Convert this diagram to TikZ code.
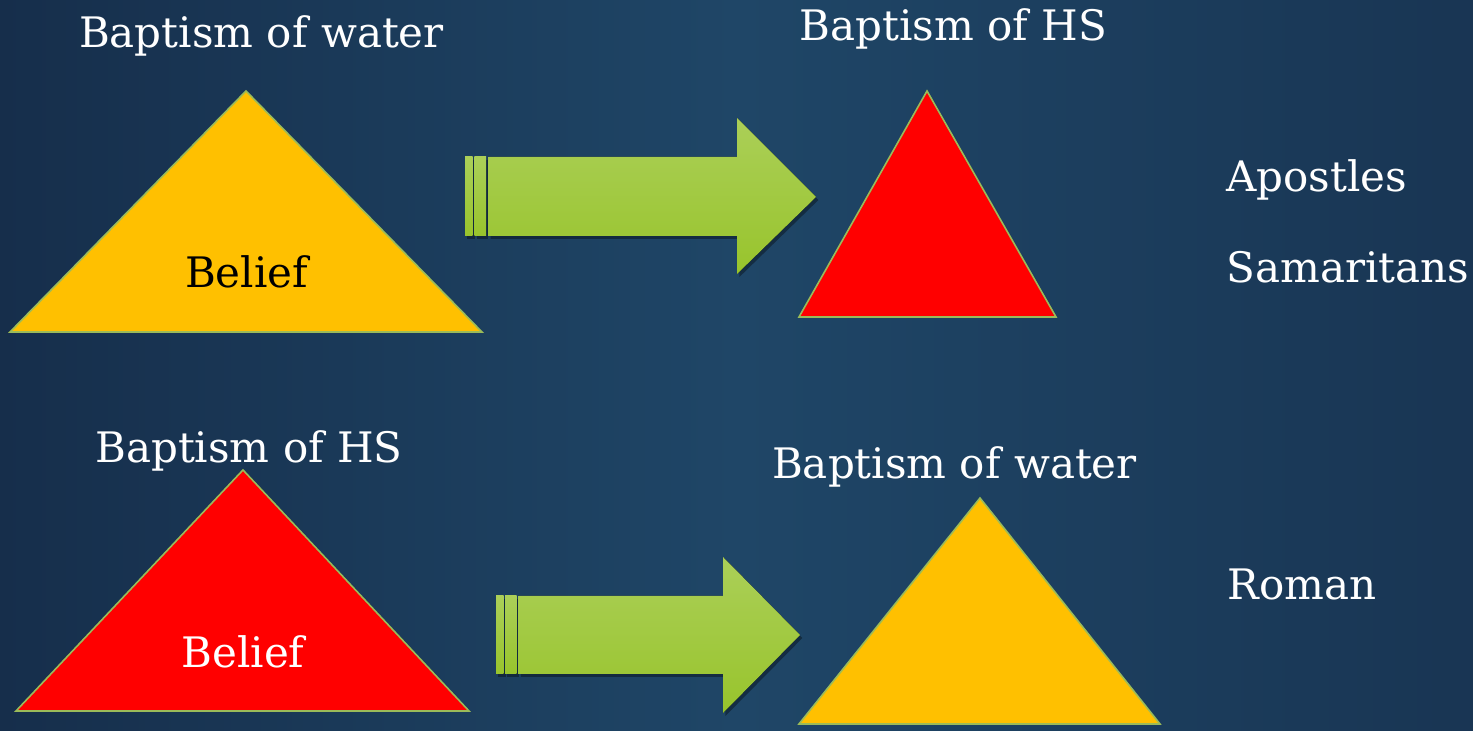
\documentclass[tikz,border=0pt]{standalone}
\usepackage{fontspec}
\setmainfont{DejaVu Serif}
\usetikzlibrary{shadows}
\definecolor{fon}{RGB}{22,46,75}
\definecolor{fonsvet}{RGB}{31,70,103}
\definecolor{zhelt}{RGB}{255,192,0}
\definecolor{krasn}{RGB}{255,0,0}
\definecolor{kontur}{RGB}{155,187,89}
\definecolor{strverh}{RGB}{171,207,88}
\definecolor{strniz}{RGB}{152,196,44}
\tikzset{
 tekst/.style={white,inner sep=0pt,font=\fontsize{21}{25}\selectfont},
 treug/.style={draw=kontur,line width=0.8pt,line join=miter},
 strelka/.style={top color=strverh,bottom color=strniz,drop shadow={shadow xshift=1.2pt,shadow yshift=-1.5pt,fill=black,opacity=0.35}}
}
\begin{document}
\begin{tikzpicture}[x=0.5pt,y=-0.5pt]
%Фон
\shade[left color=fon,right color=fon!70!fonsvet,middle color=fonsvet] (0,0) rectangle (1473,731);
\useasboundingbox (0,0) rectangle (1473,731);
%Верхний ряд
\filldraw[treug,fill=zhelt] (10,332) -- (246,91) -- (482,332) -- cycle;
\filldraw[treug,fill=krasn] (799,317) -- (927,91) -- (1056,317) -- cycle;
\fill[strelka] (465,157) rectangle (472.7,236);
\fill[strelka] (474.3,157) rectangle (486,236);
\fill[strelka] (488.3,157) -- (737,157) -- (737,118) -- (816,197) -- (737,274) -- (737,236) -- (488.3,236) -- cycle;
\node[tekst,anchor=base] (kreshV1) at (261.5,48) {Baptism of water};
\node[tekst,anchor=base,black] (vera1) at (246.5,288) {Belief};
\node[tekst,anchor=base] (kreshD1) at (953.5,41) {Baptism of HS};
\node[tekst,anchor=base west] (apost) at (1226,192) {Apostles};
\node[tekst,anchor=base west] (samar) at (1226,283) {Samaritans};
%Нижний ряд
\filldraw[treug,fill=krasn] (16,711) -- (243,470) -- (469,711) -- cycle;
\filldraw[treug,fill=zhelt] (799,724) -- (980,498) -- (1160,724) -- cycle;
\fill[strelka] (496,596) rectangle (503.5,674);
\fill[strelka] (505,596) rectangle (516.5,674);
\fill[strelka] (518.5,596) -- (723,596) -- (723,557) -- (800,635) -- (723,713) -- (723,674) -- (518.5,674) -- cycle;
\node[tekst,anchor=base] (kreshD2) at (249,463) {Baptism of HS};
\node[tekst,anchor=base] (vera2) at (243,668) {Belief};
\node[tekst,anchor=base] (kreshV2) at (954.5,479) {Baptism of water};
\node[tekst,anchor=base west] (rim) at (1227,600) {Roman};
\end{tikzpicture}
\end{document}
